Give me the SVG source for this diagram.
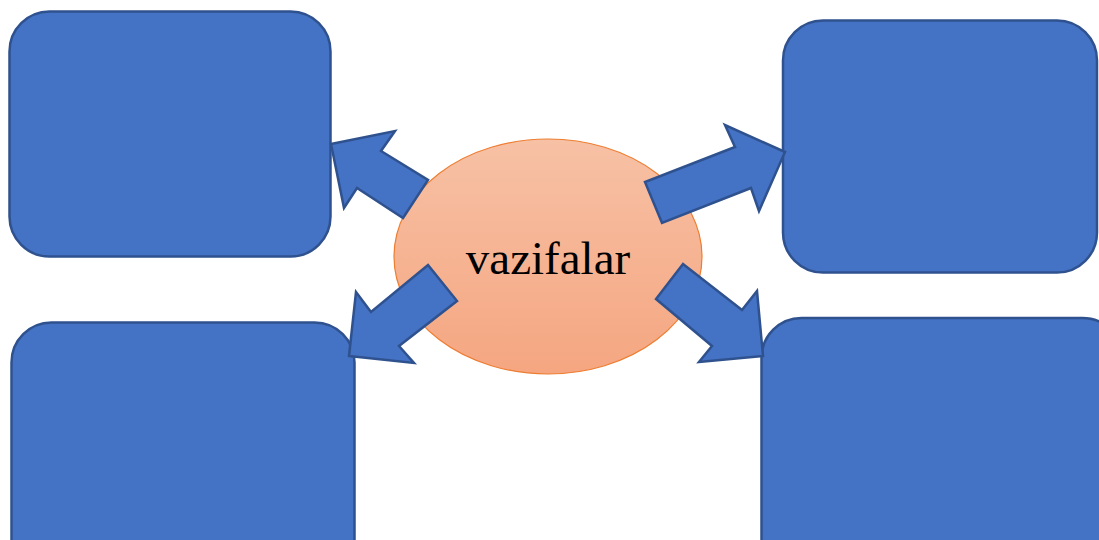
<svg xmlns="http://www.w3.org/2000/svg" width="1099" height="540" viewBox="0 0 1099 540">
  <style>
    .box { fill: #4472C4; stroke: #2F528F; stroke-width: 2.5; }
    .arrow { fill: #4472C4; stroke: #2F528F; stroke-width: 2.5; stroke-linejoin: miter; }
    .label { font-family: "Liberation Serif", "Times New Roman", serif; font-size: 47px; fill: #000000; }
  </style>
  <defs>
    <linearGradient id="orangeGrad" x1="0" y1="0" x2="0" y2="1">
      <stop offset="0" stop-color="#F7C1A5"/>
      <stop offset="1" stop-color="#F5A681"/>
    </linearGradient>
  </defs>
  <rect x="0" y="0" width="1099" height="540" fill="#FFFFFF"/>

  <g id="box-top-left">
    <rect class="box" x="9.5" y="11.5" width="321" height="245" rx="40" ry="40"/>
  </g>
  <g id="box-top-right">
    <rect class="box" x="783" y="20.5" width="314" height="252" rx="40" ry="40"/>
  </g>
  <g id="box-bottom-left">
    <rect class="box" x="11.5" y="322.5" width="343" height="260" rx="40" ry="40"/>
  </g>
  <g id="box-bottom-right">
    <rect class="box" x="761.5" y="318" width="361" height="260" rx="40" ry="40"/>
  </g>

  <g id="center">
    <ellipse cx="548" cy="256.5" rx="154" ry="117.5" fill="url(#orangeGrad)" stroke="#ED7D31" stroke-width="1.2"/>
    <text class="label" x="548" y="274" text-anchor="middle">vazifalar</text>
  </g>

  <g id="connectors">
    <polygon class="arrow" points="331,144 395,131 381,151 428,180 403,218 357,188 344,208"/>
    <polygon class="arrow" points="785,152 725,125 735,147 645,182 662,223 751,188 759,211"/>
    <polygon class="arrow" points="349,356 414,363 399,346 457,301 428,265 371,312 356,292"/>
    <polygon class="arrow" points="763,356 699,362 712,346 656,299 683,264 742,310 757,291"/>
  </g>
</svg>
